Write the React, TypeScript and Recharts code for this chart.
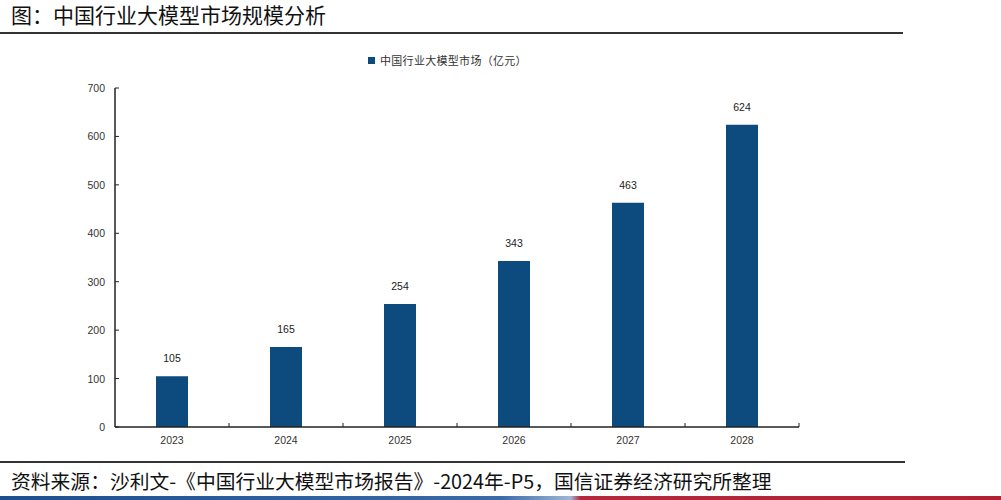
import { BarChart, Bar, XAxis, YAxis, Legend, LabelList } from "recharts";

const years = ["2023", "2024", "2025", "2026", "2027", "2028"];
const marketSize = [105, 165, 254, 343, 463, 624];
const yTicks = [0, 100, 200, 300, 400, 500, 600, 700];

const seriesName = "中国行业大模型市场（亿元）";
const title = "图：中国行业大模型市场规模分析";
const source = "资料来源：沙利文-《中国行业大模型市场报告》-2024年-P5，国信证券经济研究所整理";

const data = years.map((year, i) => ({ year, value: marketSize[i] }));

const BAR = "#0d4a7e";
const AXIS = "#222";
const FONT = "Arial, 'Liberation Sans'";
const W = 1001;
const H = 500;
const M = { top: 88, right: 202, bottom: 43, left: 75 };
const Y_W = 40;
const GAP = 10; // tick label gap from axis
const halfBand = (W - M.left - M.right - Y_W) / years.length / 2;

// y ticks point inwards (to the right of the axis line)
const YTick = (props: any) => {
  const { x, y, payload } = props;
  return (
    <g>
      <line x1={x + GAP} x2={x + GAP + 4} y1={y} y2={y} stroke={AXIS} />
      <text x={x} y={y} dy={4} textAnchor="end" fill="#333" fontSize={10.5} fontFamily={FONT}>
        {payload.value}
      </text>
    </g>
  );
};

// x ticks sit on the category boundaries and point up
const XTick = (props: any) => {
  const { x, y, payload } = props;
  const axisY = y - GAP;
  return (
    <g>
      <line x1={x + halfBand} x2={x + halfBand} y1={axisY} y2={axisY - 4} stroke={AXIS} />
      <text x={x} y={y} dy={7} textAnchor="middle" fill="#333" fontSize={10.5} fontFamily={FONT}>
        {payload.value}
      </text>
    </g>
  );
};

const renderLegend = () => (
  <div style={{ display: "flex", alignItems: "center", fontFamily: "'Noto Sans CJK SC'", fontSize: 11, letterSpacing: 0.3, color: "#333", whiteSpace: "nowrap" }}>
    <span style={{ width: 7, height: 7, background: BAR, display: "inline-block", marginRight: 5 }} />
    {seriesName}
  </div>
);

export default function App() {
  return (
    <div style={{ position: "absolute", left: 0, top: 0, width: W, height: H, background: "#fff", overflow: "hidden" }}>
      {/* title */}
      <div style={{ position: "absolute", left: 11, top: 0, fontFamily: "'Noto Sans CJK SC'", fontSize: 21, lineHeight: "28px", color: "#111" }}>
        {title}
      </div>
      <div style={{ position: "absolute", left: 0, top: 32, width: 903, height: 2, background: "#333" }} />

      <div style={{ position: "absolute", left: 0, top: 0 }}>
        <BarChart width={W} height={H} data={data} margin={M}>
          <XAxis
            dataKey="year"
            axisLine={{ stroke: AXIS, strokeWidth: 1.5 }}
            tickLine={false}
            tickSize={0}
            tickMargin={GAP}
            tick={<XTick />}
            interval={0}
            height={30}
          />
          <YAxis
            domain={[0, 700]}
            ticks={yTicks}
            width={Y_W}
            axisLine={{ stroke: AXIS, strokeWidth: 1.5 }}
            tickLine={false}
            tickSize={0}
            tickMargin={GAP}
            tick={<YTick />}
            interval={0}
          />
          <Legend
            verticalAlign="middle"
            content={renderLegend}
            wrapperStyle={{ top: 52, left: 368, width: "auto" }}
          />
          <Bar dataKey="value" name={seriesName} fill={BAR} barSize={32} isAnimationActive={false}>
            <LabelList
              dataKey="value"
              position="top"
              offset={14}
              style={{ fill: "#222", fontSize: 10.5, fontFamily: FONT }}
            />
          </Bar>
        </BarChart>
      </div>

      {/* source */}
      <div style={{ position: "absolute", left: 0, top: 461, width: 905, height: 2, background: "#333" }} />
      <div style={{ position: "absolute", left: 11, top: 468, fontFamily: "'Noto Sans CJK SC'", fontSize: 19.8, lineHeight: "26px", color: "#111", whiteSpace: "nowrap" }}>
        {source}
      </div>
      <div
        style={{
          position: "absolute",
          left: 0,
          top: 496,
          width: W,
          height: 4,
          background: "linear-gradient(to right, #1d4f8f 0%, #3a6aa8 50%, #9fb6d6 57%, #b5283b 58%, #b22235 100%)",
        }}
      />
    </div>
  );
}
